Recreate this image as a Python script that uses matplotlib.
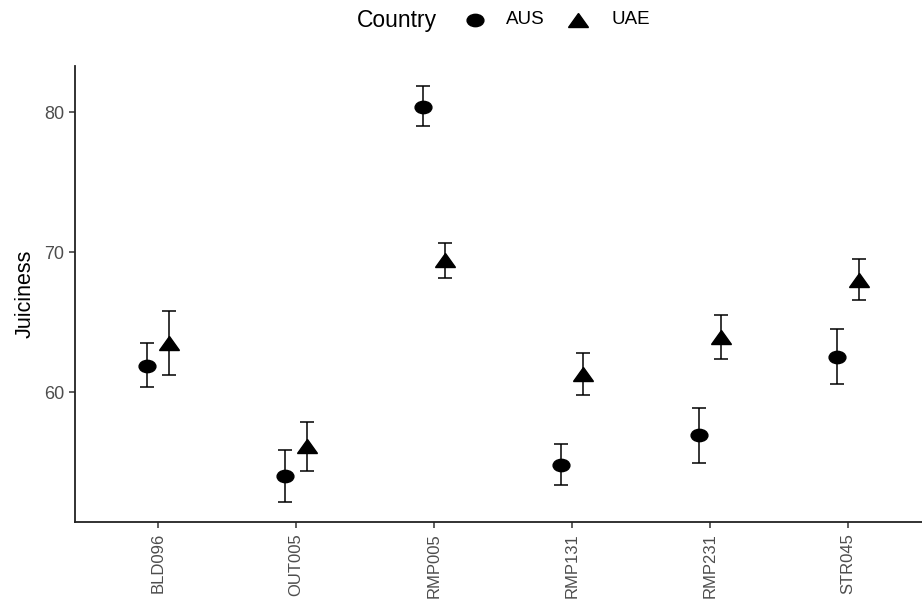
import numpy as np
import matplotlib
matplotlib.use('Agg')
import matplotlib.pyplot as plt
from matplotlib.markers import MarkerStyle
from matplotlib.transforms import Affine2D
from matplotlib.lines import Line2D

plt.rcParams['font.family'] = ['Liberation Sans', 'DejaVu Sans']

# medias y limites de las barras de error por producto
productos = ['BLD096', 'OUT005', 'RMP005', 'RMP131', 'RMP231', 'STR045']
aus_media = [61.9, 54.0, 80.4, 54.85, 56.93, 62.55]
aus_inf = [60.37, 52.2, 79.01, 53.4, 54.99, 60.57]
aus_sup = [63.51, 55.89, 81.84, 56.32, 58.87, 64.54]
uae_media = [63.55, 56.14, 69.43, 61.33, 63.95, 68.05]
uae_inf = [61.25, 54.39, 68.16, 59.82, 62.37, 66.6]
uae_sup = [65.84, 57.89, 70.7, 62.84, 65.54, 69.5]

# marcadores algo ensanchados
circulo = MarkerStyle('o', transform=Affine2D().scale(1.36, 1))
triangulo = MarkerStyle('^', transform=Affine2D().scale(1.42, 1))

fig = plt.figure(figsize=(9.22, 6.01), dpi=100)
ax = fig.add_axes([75/922, 1-522/601, 1-75/922, (522-66)/601])

x = np.arange(1, len(productos)+1)
d = 0.08

def serie(xs, m, lo, hi, mk, ms):
    m = np.array(m); lo = np.array(lo); hi = np.array(hi)
    ax.errorbar(xs, m, yerr=[m-lo, hi-m], fmt='none', ecolor='black',
                elinewidth=1.1, capsize=4.7, capthick=1.1, zorder=2)
    ax.plot(xs, m, linestyle='none', marker=mk, markersize=ms,
            color='black', zorder=3)

serie(x-d, aus_media, aus_inf, aus_sup, circulo, 8.9)
serie(x+d, uae_media, uae_inf, uae_sup, triangulo, 10.5)

ax.set_xlim(0.4, 6.536)
ax.set_ylim(50.75, 83.3)
ax.set_xticks(x)
ax.set_xticklabels(productos, rotation=90)
ax.set_yticks([60, 70, 80])
ax.set_ylabel('Juiciness', fontsize=15.5, labelpad=6)
for s in ['top', 'right']:
    ax.spines[s].set_visible(False)
for s in ['left', 'bottom']:
    ax.spines[s].set_linewidth(1.3)
    ax.spines[s].set_color('#222222')
ax.tick_params(axis='both', colors='#333333', width=1.1, length=4.5,
               labelcolor='#4D4D4D')
ax.tick_params(axis='y', labelsize=13, pad=3)
ax.tick_params(axis='x', labelsize=12, pad=3.5)

# leyenda arriba
yl = 1 - 20/601
fig.text(357/922, yl, 'Country', fontsize=16.5, va='center', ha='left')
fig.add_artist(Line2D([474.5/922], [yl], transform=fig.transFigure, linestyle='none',
                      marker=circulo, markersize=8.9, color='black'))
fig.text(506/922, yl, 'AUS', fontsize=13.5, va='center', ha='left')
fig.add_artist(Line2D([578/922], [yl], transform=fig.transFigure, linestyle='none',
                      marker=triangulo, markersize=10.5, color='black'))
fig.text(611/922, yl, 'UAE', fontsize=13.5, va='center', ha='left')

fig.savefig('out.png', dpi=100)
